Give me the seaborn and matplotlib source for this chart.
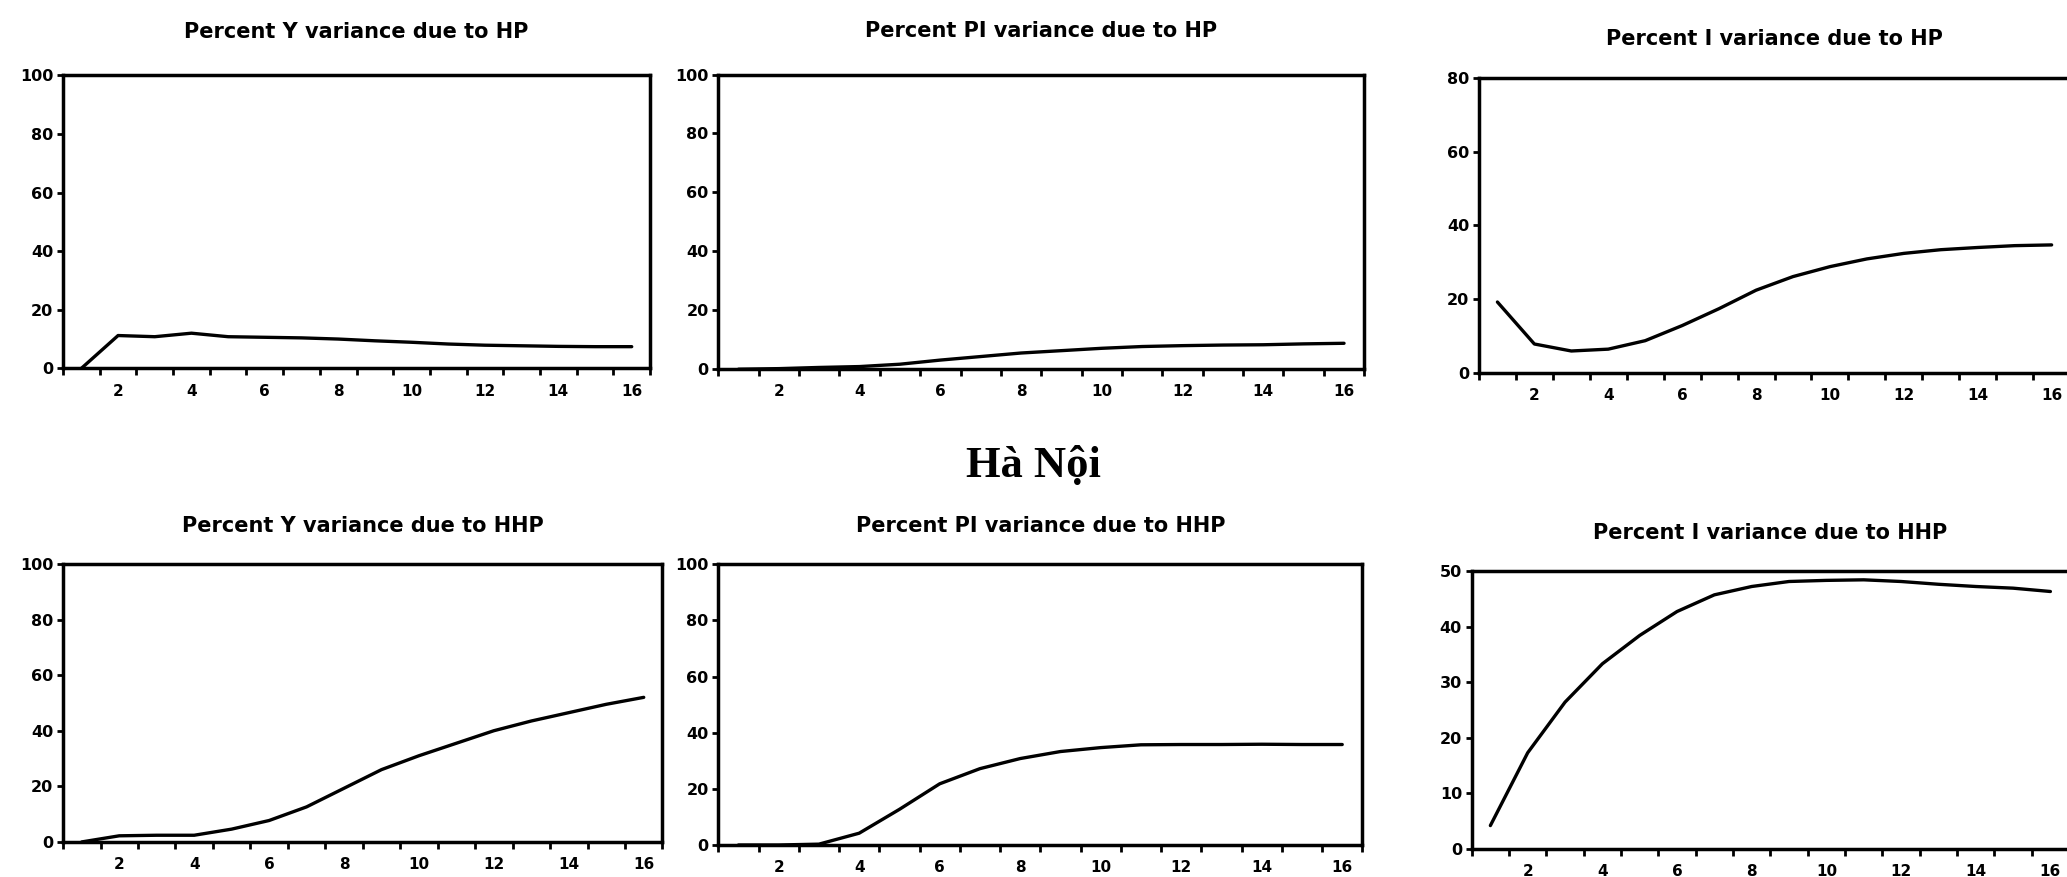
import numpy as np
import pandas as pd
import matplotlib
matplotlib.use("Agg")
import matplotlib.pyplot as plt
import seaborn as sns

# === Forecast horizon (periods 1..16) ===
steps = list(range(1, 17))

# === Variance decomposition values (%) ===
y_due_hp = [0.0, 11.2, 10.8, 12.0, 10.8, 10.6, 10.4, 10.0, 9.4, 8.9, 8.3, 7.9, 7.7, 7.5, 7.4, 7.4]
pi_due_hp = [0.0, 0.2, 0.6, 0.9, 1.7, 3.1, 4.3, 5.5, 6.3, 7.1, 7.7, 8.0, 8.2, 8.3, 8.6, 8.8]
i_due_hp = [19.2, 7.8, 5.9, 6.4, 8.7, 12.8, 17.4, 22.4, 26.1, 28.8, 30.9, 32.4, 33.4, 34.0, 34.5, 34.7]
y_due_hhp = [0.0, 2.2, 2.4, 2.4, 4.6, 7.7, 12.6, 19.3, 26.0, 31.0, 35.5, 40.0, 43.5, 46.5, 49.5, 52.0]
pi_due_hhp = [0.0, 0.0, 0.3, 4.2, 12.7, 21.8, 27.2, 30.8, 33.3, 34.7, 35.7, 35.8, 35.8, 35.9, 35.8, 35.8]
i_due_hhp = [4.2, 17.3, 26.4, 33.3, 38.4, 42.7, 45.7, 47.2, 48.1, 48.3, 48.4, 48.1, 47.6, 47.2, 46.9, 46.3]

titles = [
    "Percent Y variance due to HP",
    "Percent PI variance due to HP",
    "Percent I variance due to HP",
    "Percent Y variance due to HHP",
    "Percent PI variance due to HHP",
    "Percent I variance due to HHP",
]
series = [y_due_hp, pi_due_hp, i_due_hp, y_due_hhp, pi_due_hhp, i_due_hhp]
y_max = [100, 100, 80, 100, 100, 50]
y_step = [20, 20, 20, 20, 20, 10]
x_labels = ["2", "4", "6", "8", "10", "12", "14", "16"]
city = "Hà Nội"

# === Layout (figure fractions) ===
positions = [
    [0.0305, 0.580, 0.284, 0.334],
    [0.3475, 0.579, 0.3125, 0.336],
    [0.7155, 0.575, 0.286, 0.336],
    [0.0305, 0.040, 0.290, 0.317],
    [0.3475, 0.0365, 0.3116, 0.320],
    [0.712, 0.032, 0.289, 0.317],
]
title_pads = [27, 27, 24, 23, 23, 23]

sns.set_style("ticks")
plt.rcParams["font.family"] = ["DejaVu Sans"]
plt.rcParams["text.color"] = "black"
plt.rcParams["xtick.color"] = "black"
plt.rcParams["ytick.color"] = "black"
plt.rcParams["axes.edgecolor"] = "black"

fig = plt.figure(figsize=(20.67, 8.77), dpi=100)

for k in range(6):
    ax = fig.add_axes(positions[k])
    df = pd.DataFrame({"step": steps, "value": series[k]})
    sns.lineplot(data=df, x="step", y="value", ax=ax, color="black", linewidth=2.4)

    ax.set_xlim(0.5, 16.5)
    ax.set_ylim(0, y_max[k])
    ax.set_yticks(np.arange(0, y_max[k] + 1, y_step[k]))
    ax.set_yticklabels([str(v) for v in range(0, y_max[k] + 1, y_step[k])],
                       fontsize=11.5, fontweight="bold")

    # ticks between periods, labels on even periods
    ax.set_xticks(np.arange(0.5, 17, 1))
    ax.set_xticklabels([])
    ax.set_xticks(range(2, 17, 2), minor=True)
    ax.set_xticklabels(x_labels, minor=True, fontsize=11, fontweight="bold")
    ax.tick_params(axis="x", which="major", direction="out", length=5, width=2)
    ax.tick_params(axis="x", which="minor", length=0, pad=11)
    ax.tick_params(axis="y", direction="out", length=4, width=2, pad=3)

    for s in ax.spines.values():
        s.set_visible(True)
        s.set_linewidth(2.5)
        s.set_color("black")

    ax.set_xlabel("")
    ax.set_ylabel("")
    ax.set_title(titles[k], fontsize=15, fontweight="bold", color="black", pad=title_pads[k])

fig.text(0.5, 0.456, city, ha="center", va="baseline", color="black",
         fontsize=32, fontweight="bold", family=["Liberation Serif", "DejaVu Serif"])

fig.savefig("out.png", dpi=100)
